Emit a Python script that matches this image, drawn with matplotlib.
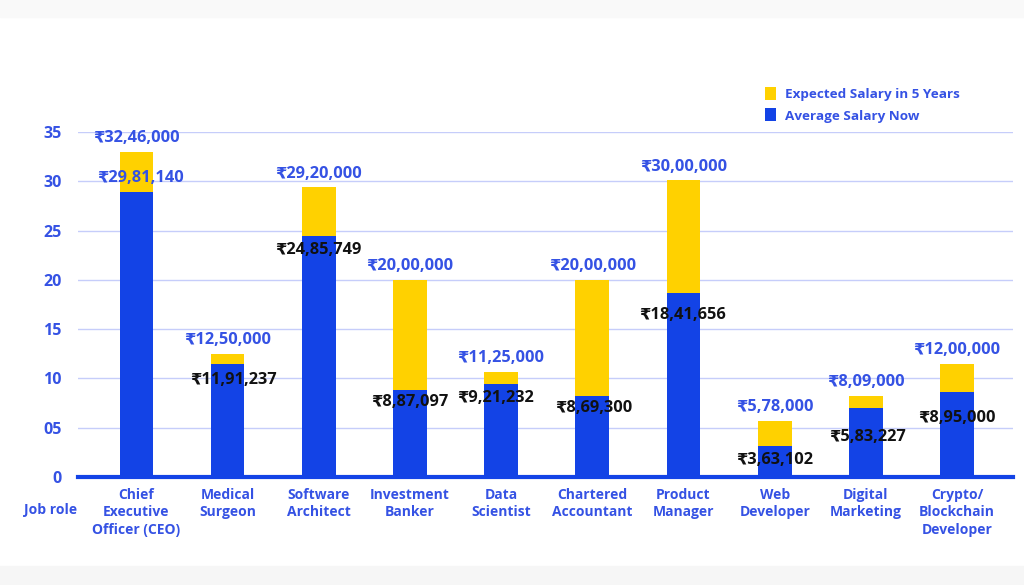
import matplotlib
matplotlib.use("Agg")
import matplotlib.pyplot as plt
from matplotlib.patches import Rectangle

plt.rcParams['font.family'] = ['Open Sans', 'DejaVu Sans']

# job roles (x axis)
roles = ['Chief\nExecutive\nOfficer (CEO)', 'Medical\nSurgeon', 'Software\nArchitect',
         'Investment\nBanker', 'Data\nScientist', 'Chartered\nAccountant', 'Product\nManager',
         'Web\nDeveloper', 'Digital\nMarketing', 'Crypto/\nBlockchain\nDeveloper']

# bar heights (lakh units)
avg_now = [28.9, 11.5, 24.5, 8.85, 9.45, 8.25, 18.7, 3.15, 7.0, 8.65]
expected_5y = [33.0, 12.5, 29.4, 20.0, 10.7, 20.0, 30.1, 5.7, 8.25, 11.5]

# printed value labels
avg_labels = ['₹29,81,140', '₹11,91,237', '₹24,85,749', '₹8,87,097', '₹9,21,232',
              '₹8,69,300', '₹18,41,656', '₹3,63,102', '₹5,83,227', '₹8,95,000']
exp_labels = ['₹32,46,000', '₹12,50,000', '₹29,20,000', '₹20,00,000', '₹11,25,000',
              '₹20,00,000', '₹30,00,000', '₹5,78,000', '₹8,09,000', '₹12,00,000']

yticks = [0, 5, 10, 15, 20, 25, 30, 35]
ytick_labels = ['0', '05', '10', '15', '20', '25', '30', '35']

BLUE = '#1343e6'
YELLOW = '#ffd100'
TXT = '#3552e4'

# offsets (points) of the inner labels from the top of the blue bar
inner_off = [10, -12, -10, -9, -10, -9, -16, -10, -21, -19]
inner_col = [TXT] + ['#111111'] * 9
inner_dx = [3, 4, 0, 0, -4, 1, -1, 0, 1, 0]

fig = plt.figure(figsize=(10.24, 5.85), dpi=100)
fig.patches.append(Rectangle((0, 0), 1, 0.032, transform=fig.transFigure,
                             color='#f6f6f6', zorder=0))
fig.patches.append(Rectangle((0, 0.971), 1, 0.029, transform=fig.transFigure,
                             color='#f9f9f9', zorder=0))
ax = fig.add_axes([0.0762, 0.1846, 0.9128, 0.5894])

x = list(range(len(roles)))
extra = [e - a for e, a in zip(expected_5y, avg_now)]
ax.bar(x, avg_now, width=0.37, color=BLUE, zorder=3, label='Average Salary Now')
ax.bar(x, extra, bottom=avg_now, width=0.37, color=YELLOW, zorder=3,
       label='Expected Salary in 5 Years')

for i in x:
    ax.annotate(exp_labels[i], (i, expected_5y[i]), xytext=(0, 4),
                textcoords='offset points', ha='center', va='bottom',
                color=TXT, fontsize=11.8, fontweight='bold', zorder=5)
    ax.annotate(avg_labels[i], (i, avg_now[i]), xytext=(inner_dx[i], inner_off[i]),
                textcoords='offset points', ha='center', va='center',
                color=inner_col[i], fontsize=11.8, fontweight='bold', zorder=5)

ax.set_xlim(-0.64, 9.61)
ax.set_ylim(0, 35)
ax.set_yticks(yticks)
ax.set_yticklabels(ytick_labels)
ax.set_xticks(x)
ax.set_xticklabels(roles, va='top', linespacing=1.3)
ax.tick_params(axis='both', length=0, colors=TXT)
ax.tick_params(axis='x', pad=8, labelsize=10)
ax.tick_params(axis='y', pad=12, labelsize=11.5)
for lbl in ax.get_xticklabels() + ax.get_yticklabels():
    lbl.set_fontweight('bold')
    lbl.set_color(TXT)
for lbl in ax.get_xticklabels():
    lbl.set_multialignment('center')

ax.grid(axis='y', color='#c6cdfa', linewidth=1, zorder=0)
for s in ['top', 'right', 'left']:
    ax.spines[s].set_visible(False)
ax.spines['bottom'].set_color(BLUE)
ax.spines['bottom'].set_linewidth(3)
ax.spines['bottom'].set_zorder(4)

fig.text(0.049, 0.128, 'Job role', color=TXT, fontsize=10, fontweight='bold',
         ha='center', va='center')

handles, labels = ax.get_legend_handles_labels()
leg = fig.legend(handles[::-1], labels[::-1], loc='upper left',
                 bbox_to_anchor=(0.735, 0.872), frameon=False, fontsize=9.7,
                 handlelength=0.8, handleheight=1.1, handletextpad=0.7,
                 labelspacing=0.55)
for t in leg.get_texts():
    t.set_color(TXT)
    t.set_fontweight('bold')

fig.savefig('out.png', dpi=100, facecolor='white')
